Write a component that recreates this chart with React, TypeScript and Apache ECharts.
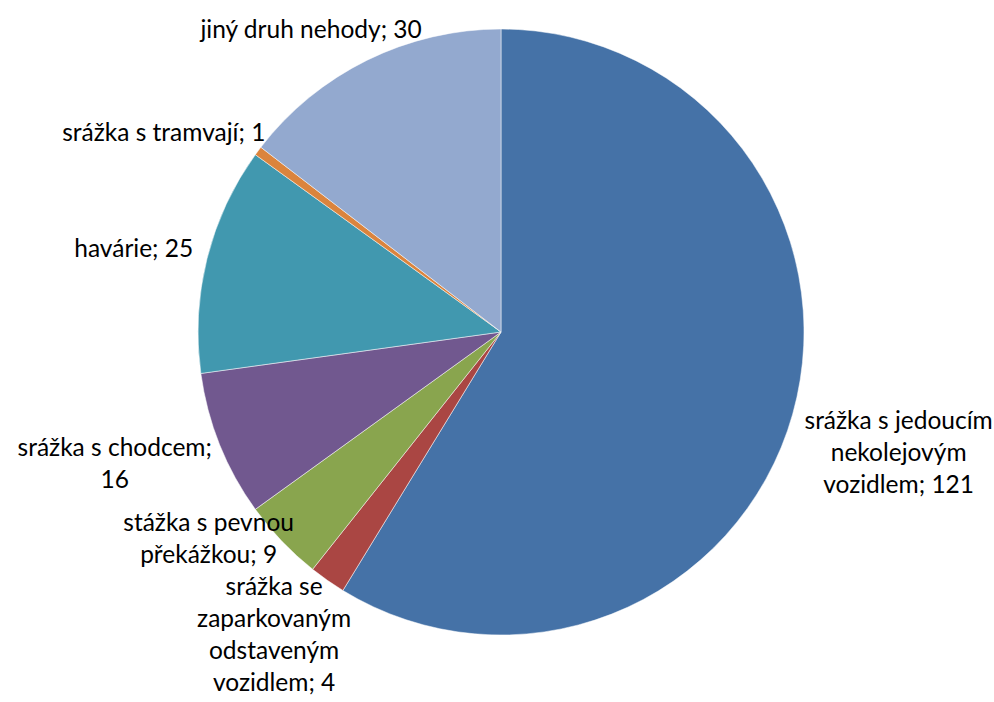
import React, { useEffect, useRef } from "react";
import * as echarts from "echarts";

const categories = [
  "srážka s jedoucím\nnekolejovým\nvozidlem",
  "srážka se\nzaparkovaným\nodstaveným\nvozidlem",
  "stážka s pevnou\npřekážkou",
  "srážka s chodcem",
  "havárie",
  "srážka s tramvají",
  "jiný druh nehody",
];
const values = [121, 4, 9, 16, 25, 1, 30];
const colors = ["#4572A7", "#AA4643", "#89A54E", "#71588F", "#4198AF", "#DB843D", "#93A9CF"];
// label separator after the name (line break for the pedestrian slice)
const separators = ["; ", "; ", "; ", ";\n", "; ", "; ", "; "];
// small vertical nudges so labels don't collide (styling only)
const labelNudgeY = [20, -12, -37, 0, -4, 0, -3];

const CX = 501;
const CY = 332;
const R = 303;
const GAP = 16;

export default function App() {
  const ref = useRef<HTMLDivElement>(null);
  useEffect(() => {
    if (!ref.current) return;
    const chart = echarts.init(ref.current, undefined, { renderer: "svg" });
    const total = values.reduce((a, b) => a + b, 0);
    const starts: number[] = [];
    let acc = 0;
    values.forEach((v) => {
      starts.push(acc);
      acc += v;
    });
    chart.setOption({
      animation: false,
      backgroundColor: "#ffffff",
      series: [
        {
          type: "pie",
          center: [CX, CY],
          radius: [0, R],
          startAngle: 90,
          clockwise: true,
          avoidLabelOverlap: false,
          itemStyle: { borderColor: "#ffffff", borderWidth: 0.5 },
          label: {
            show: true,
            position: "outside",
            fontFamily: "Lato, 'Open Sans', sans-serif",
            fontSize: 24.5,
            lineHeight: 32,
            color: "#000000",
            align: "center",
            formatter: (p: any) => `${categories[p.dataIndex]}${separators[p.dataIndex]}${p.value}`,
          },
          labelLine: { show: false },
          labelLayout: (params: any) => {
            const i = params.dataIndex;
            const mid = ((starts[i] + values[i] / 2) / total) * Math.PI * 2;
            const nx = Math.sin(mid);
            const ny = -Math.cos(mid);
            const w = params.labelRect.width;
            const h = params.labelRect.height;
            const x = CX + nx * (R + GAP) + (nx * w) / 2;
            const y = CY + ny * (R + GAP) + (ny * h) / 2 + labelNudgeY[i];
            return { x, y, align: "center", verticalAlign: "middle" };
          },
          data: values.map((v, i) => ({
            value: v,
            name: categories[i],
            itemStyle: { color: colors[i] },
          })),
        },
      ],
    });
    return () => chart.dispose();
  }, []);
  return (
    <div
      ref={ref}
      style={{ position: "absolute", left: 0, top: 0, width: 994, height: 702 }}
    />
  );
}
